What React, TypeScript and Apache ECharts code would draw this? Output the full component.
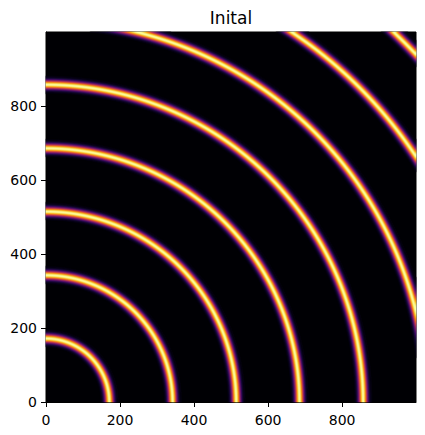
import React, { useEffect, useRef } from "react";
import * as echarts from "echarts";

// Image sampling (cells per side) and data extent
const N = 370;
const EXTENT = 1000;
// Ring radii (data units), and ring half-width
const ringRadii = [172, 343, 515, 686, 858, 1030, 1201, 1373];
const ringSigma = 8;
const xTickValues = [0, 200, 400, 600, 800];
const yTickValues = [0, 200, 400, 600, 800];
const chartTitle = "Inital";
// inferno colormap stops
const infernoStops = [
  "#000004", "#160b39", "#420a68", "#6a176e", "#932667", "#bc3754",
  "#dd513a", "#f37819", "#fca50a", "#f6d746", "#fcffa4",
];

function buildCells() {
  const cells: number[][] = [];
  const step = EXTENT / N;
  for (let i = 0; i < N; i++) {
    const x = (i + 0.5) * step;
    for (let j = 0; j < N; j++) {
      const y = (j + 0.5) * step;
      const r = Math.sqrt(x * x + y * y);
      let v = 0;
      for (const R of ringRadii) {
        const d = r - R;
        const e = Math.exp(-(d * d) / (2 * ringSigma * ringSigma));
        if (e > v) v = e;
      }
      if (v > 0.01) cells.push([i, j, v]);
    }
  }
  return cells;
}

export default function App() {
  const ref = useRef<HTMLDivElement>(null);
  useEffect(() => {
    document.body.style.margin = "0";
    const chart = echarts.init(ref.current!, null, { renderer: "svg" });
    const cats = Array.from({ length: N }, (_, i) => String(i));
    const font = "DejaVu Sans";
    const labelStyle = { color: "#000", fontSize: 14, fontFamily: font };
    const tickStyle = { length: 5, lineStyle: { color: "#000", width: 1 } };
    chart.setOption({
      animation: false,
      graphic: [
        {
          type: "text",
          x: 231,
          y: 9,
          style: {
            text: chartTitle,
            fontSize: 17,
            fontFamily: font,
            fill: "#000",
            textAlign: "center",
            textVerticalAlign: "top",
          },
        },
      ],
      grid: {
        left: 46,
        right: 9,
        top: 32,
        bottom: 33,
        show: true,
        backgroundColor: "#000004",
        borderColor: "#000",
        borderWidth: 1,
        z: 0,
      },
      xAxis: [
        { type: "category", data: cats, show: false, position: "bottom", gridIndex: 0 },
        {
          type: "value",
          gridIndex: 0,
          position: "bottom",
          min: 0,
          max: 999.5,
          axisLine: { show: true, onZero: false, lineStyle: { color: "#000", width: 1 } },
          splitLine: { show: false },
          axisTick: { show: true, inside: false, ...tickStyle, customValues: xTickValues },
          axisLabel: { ...labelStyle, margin: 11, customValues: xTickValues },
        },
      ],
      yAxis: [
        { type: "category", data: cats, show: false, position: "left", gridIndex: 0 },
        {
          type: "value",
          gridIndex: 0,
          position: "left",
          min: 0,
          max: 999.5,
          axisLine: { show: true, onZero: false, lineStyle: { color: "#000", width: 1 } },
          splitLine: { show: false },
          axisTick: { show: true, inside: false, ...tickStyle, customValues: yTickValues },
          axisLabel: { ...labelStyle, margin: 9, customValues: yTickValues },
        },
      ],
      visualMap: {
        show: false,
        min: 0,
        max: 1,
        dimension: 2,
        seriesIndex: 0,
        inRange: { color: infernoStops },
      },
      series: [
        {
          type: "heatmap",
          xAxisIndex: 0,
          yAxisIndex: 0,
          data: buildCells(),
          progressive: 0,
          emphasis: { disabled: true },
          silent: true,
          itemStyle: { borderWidth: 0 },
        },
      ],
    });
    return () => chart.dispose();
  }, []);
  return <div ref={ref} style={{ width: 425, height: 435 }} />;
}
